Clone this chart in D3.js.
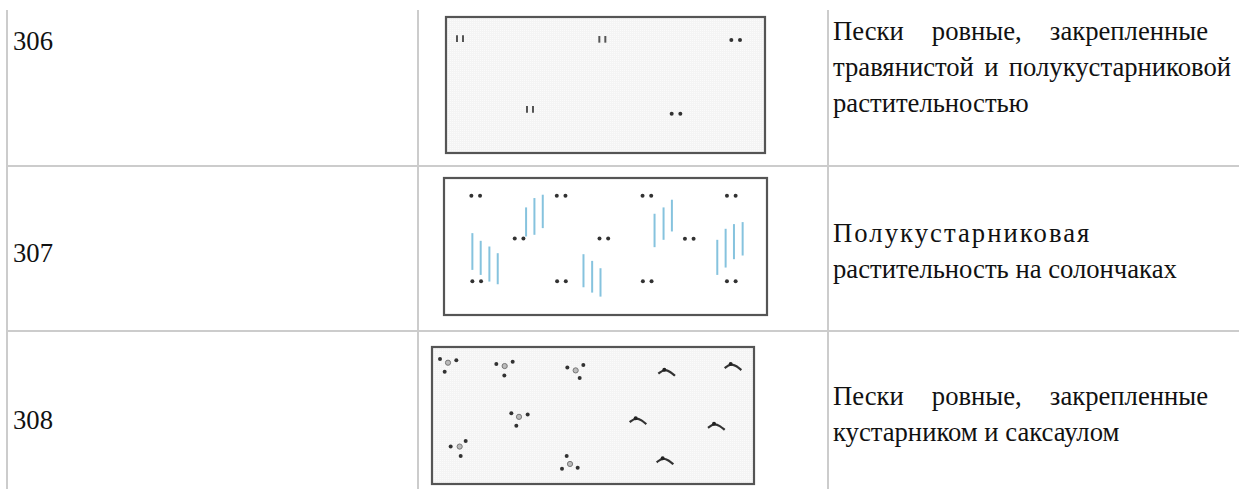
<!DOCTYPE html>
<html>
<head>
<meta charset="utf-8">
<script src="https://cdn.jsdelivr.net/npm/d3@7"></script>
<style>
html, body { margin: 0; padding: 0; background: #fff; }
svg { display: block; }
text { font-family: "Liberation Serif", serif; fill: #111; }
</style>
</head>
<body>
<div class="canvas"></div>
<script>
// what the table says
var codes = ['306', '307', '308'];
var descriptions = [
    ['Пески ровные, закрепленные', 'травянистой и полукустарниковой', 'растительностью'],
    ['Полукустарниковая', 'растительность на солончаках'],
    ['Пески ровные, закрепленные', 'кустарником и саксаулом']
];

// map symbols, in units inside each frame
var sheet1_ticks = [[42, 65], [469, 67], [252, 277]];
var sheet1_dots = [[869, 69], [690, 290]];

var sheet2_dots = [[95, 53], [351, 53], [608, 53], [861, 53], [225, 181], [479, 181],
    [735, 182], [98, 309], [352, 309], [609, 309], [861, 309]];
var sheet2_reeds = [
    [85, 165, 275], [110, 188, 290], [136, 205, 310], [161, 225, 318],
    [246, 88, 175], [271, 60, 170], [296, 50, 150],
    [418, 228, 327], [444, 248, 343], [469, 270, 355],
    [631, 107, 207], [658, 88, 185], [683, 65, 160],
    [819, 185, 290], [844, 152, 268], [869, 138, 243], [895, 132, 232]
];

var sheet3_bushes = [[48, 47], [218, 57], [431, 70], [261, 209], [83, 298], [414, 350]];
var sheet3_bush_dots = [[24, 36], [73, 40], [38, 74], [193, 51], [242, 44], [217, 85],
    [406, 61], [454, 54], [443, 93], [238, 198], [287, 202], [253, 236],
    [56, 298], [101, 281], [86, 326], [404, 326], [390, 364], [437, 361]];
var sheet3_saxaul = [[697, 68], [896, 51], [611, 213], [846, 230], [692, 333]];

var width = 1239,
    height = 489;

var svg = d3.select('.canvas').append('svg')
    .attr('width', width)
    .attr('height', height);

var defs = svg.append('defs');
defs.append('filter').attr('id', 'soft')
    .attr('x', '-5%').attr('y', '-5%').attr('width', '110%').attr('height', '110%')
    .append('feGaussianBlur').attr('stdDeviation', 0.6);

// the fine sand texture of the grey sheets
var sand = defs.append('pattern').attr('id', 'sand')
    .attr('patternUnits', 'userSpaceOnUse')
    .attr('width', 2).attr('height', 2);
sand.append('rect').attr('width', 2).attr('height', 2).attr('fill', '#f4f4f4');
sand.append('rect').attr('width', 1).attr('height', 1).attr('fill', '#fbfbfb');

// table rules
var rule = '#cccccc';
var vlines = [7, 418, 828],
    hlines = [166, 331];

svg.selectAll('.vrule').data(vlines).enter().append('line')
    .attr('x1', function (d) { return d; })
    .attr('x2', function (d) { return d; })
    .attr('y1', 10).attr('y2', height)
    .attr('stroke', rule).attr('stroke-width', 2);

svg.selectAll('.hrule').data(hlines).enter().append('line')
    .attr('x1', 7).attr('x2', width)
    .attr('y1', function (d) { return d; })
    .attr('y2', function (d) { return d; })
    .attr('stroke', rule).attr('stroke-width', 2);

// first column
var fontSize = 26.67;
var codeY = [50, 262, 429];
svg.selectAll('.code').data(codes).enter().append('text')
    .attr('x', 13)
    .attr('y', function (d, i) { return codeY[i]; })
    .attr('font-size', fontSize)
    .text(function (d) { return d; });

// last column, stretched lines get extra word spacing like justified text
var textX = 833;
function drawLines(lines, y0, step, spacing, target) {
    lines.forEach(function (line, i) {
        var t = svg.append('text')
            .attr('x', textX)
            .attr('y', y0 + i * step)
            .attr('font-size', fontSize)
            .text(line);
        if (spacing[i]) t.attr('letter-spacing', spacing[i]);
        if (target[i]) {
            var gaps = line.split(' ').length - 1;
            var extra = (target[i] - t.node().getComputedTextLength()) / gaps;
            t.attr('word-spacing', extra);
        }
    });
}
drawLines(descriptions[0], 40, 36, [0, 0, 0], [375, 398, 0]);
drawLines(descriptions[1], 242, 36, [2.05, 0], [0, 0]);
drawLines(descriptions[2], 405, 36, [0, 0], [375, 0]);

// a frame with its own scales
function frame(x, y, w, h, unitsW, unitsH, fill) {
    var g = svg.append('g').attr('filter', 'url(#soft)');
    g.append('rect')
        .attr('x', x).attr('y', y).attr('width', w).attr('height', h)
        .attr('fill', fill)
        .attr('stroke', '#555').attr('stroke-width', 2.2);
    return {
        g: g,
        sx: d3.scaleLinear().domain([0, unitsW]).range([x, x + w]),
        sy: d3.scaleLinear().domain([0, unitsH]).range([y, y + h])
    };
}

function dotPairs(f, data, gap) {
    f.g.selectAll(null).data(d3.merge(data.map(function (d) {
        return [[d[0] - gap, d[1]], [d[0] + gap, d[1]]];
    }))).enter().append('circle')
        .attr('cx', function (d) { return f.sx(d[0]); })
        .attr('cy', function (d) { return f.sy(d[1]); })
        .attr('r', 2)
        .attr('fill', '#333');
}

// sheet 306
var f1 = frame(446, 17, 319, 136, 957, 408, 'url(#sand)');
f1.g.selectAll(null).data(d3.merge(sheet1_ticks.map(function (d) {
    return [[d[0] - 9, d[1]], [d[0] + 9, d[1]]];
}))).enter().append('line')
    .attr('x1', function (d) { return f1.sx(d[0]); })
    .attr('x2', function (d) { return f1.sx(d[0]); })
    .attr('y1', function (d) { return f1.sy(d[1] - 10); })
    .attr('y2', function (d) { return f1.sy(d[1] + 10); })
    .attr('stroke', '#555').attr('stroke-width', 2);
dotPairs(f1, sheet1_dots, 13);

// sheet 307
var f2 = frame(444, 178, 323, 137, 968, 410, '#fff');
f2.g.selectAll(null).data(sheet2_reeds).enter().append('line')
    .attr('x1', function (d) { return f2.sx(d[0]); })
    .attr('x2', function (d) { return f2.sx(d[0]); })
    .attr('y1', function (d) { return f2.sy(d[1]); })
    .attr('y2', function (d) { return f2.sy(d[2]); })
    .attr('stroke', '#86c3de').attr('stroke-width', 2);
dotPairs(f2, sheet2_dots, 13);

// sheet 308
var f3 = frame(432, 347, 322, 137, 966, 410, 'url(#sand)');
f3.g.selectAll(null).data(sheet3_bushes).enter().append('circle')
    .attr('cx', function (d) { return f3.sx(d[0]); })
    .attr('cy', function (d) { return f3.sy(d[1]); })
    .attr('r', 2.6)
    .attr('fill', '#bbb').attr('stroke', '#777').attr('stroke-width', 1);
f3.g.selectAll(null).data(sheet3_bush_dots).enter().append('circle')
    .attr('cx', function (d) { return f3.sx(d[0]); })
    .attr('cy', function (d) { return f3.sy(d[1]); })
    .attr('r', 2)
    .attr('fill', '#333');

// saxaul mark, two wings under a small peak
var wing = d3.line().curve(d3.curveBasis);
f3.g.selectAll(null).data(sheet3_saxaul).enter().append('path')
    .attr('d', function (d) {
        return wing([
            [f3.sx(d[0] - 18), f3.sy(d[1] + 12)],
            [f3.sx(d[0]), f3.sy(d[1] - 2)],
            [f3.sx(d[0] + 18), f3.sy(d[1] + 6)],
            [f3.sx(d[0] + 32), f3.sy(d[1] + 18)]
        ]);
    })
    .attr('fill', 'none').attr('stroke', '#333').attr('stroke-width', 2.2);
f3.g.selectAll(null).data(sheet3_saxaul).enter().append('circle')
    .attr('cx', function (d) { return f3.sx(d[0]); })
    .attr('cy', function (d) { return f3.sy(d[1]); })
    .attr('r', 2)
    .attr('fill', '#222');
</script>
</body>
</html>
